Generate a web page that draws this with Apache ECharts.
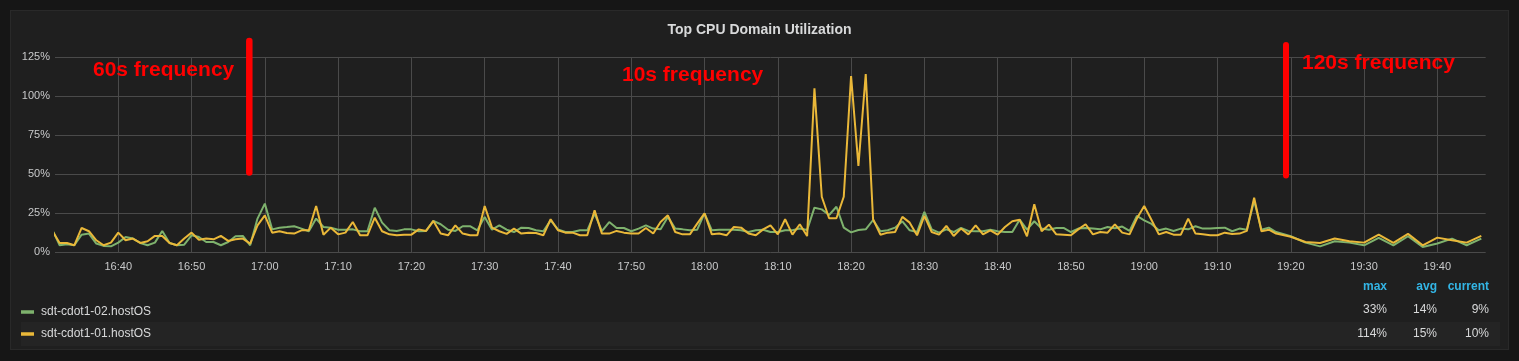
<!DOCTYPE html>
<html>
<head>
<meta charset="utf-8">
<script src="https://cdn.jsdelivr.net/npm/echarts@6/dist/echarts.min.js"></script>
<style>
html,body{margin:0;padding:0;background:#161616;}
#panel{position:absolute;left:10px;top:10px;width:1499px;height:340px;background:#1f1f1f;border:1px solid #292929;box-sizing:border-box;}
#chart{position:absolute;left:0;top:0;width:1519px;height:361px;}
</style>
</head>
<body>
<div id="panel"></div>
<div id="chart"></div>
<script>
const title = 'Top CPU Domain Utilization';
const seriesNames = ['sdt-cdot1-02.hostOS', 'sdt-cdot1-01.hostOS'];
const statHeaders = ['max', 'avg', 'current'];
const stats02 = ['33%', '14%', '9%'];
const stats01 = ['114%', '15%', '10%'];
const annotations = ['60s frequency', '10s frequency', '120s frequency'];
const yTicks = [0, 25, 50, 75, 100, 125];
const xTickLabels = ['16:40','16:50','17:00','17:10','17:20','17:30','17:40','17:50','18:00','18:10',
  '18:20','18:30','18:40','18:50','19:00','19:10','19:20','19:30','19:40'];

const times = [
 '16:31','16:32','16:33','16:34','16:35','16:36','16:37','16:38','16:39',
 '16:40','16:41','16:42','16:43','16:44','16:45','16:46','16:47','16:48','16:49',
 '16:50','16:51','16:52','16:53','16:54','16:55','16:56','16:57','16:58','16:59',
 '17:00','17:01','17:02','17:03','17:04','17:05','17:06','17:07','17:08','17:09',
 '17:10','17:11','17:12','17:13','17:14','17:15','17:16','17:17','17:18','17:19',
 '17:20','17:21','17:22','17:23','17:24','17:25','17:26','17:27','17:28','17:29',
 '17:30','17:31','17:32','17:33','17:34','17:35','17:36','17:37','17:38','17:39',
 '17:40','17:41','17:42','17:43','17:44','17:45','17:46','17:47','17:48','17:49',
 '17:50','17:51','17:52','17:53','17:54','17:55','17:56','17:57','17:58','17:59',
 '18:00','18:01','18:02','18:03','18:04','18:05','18:06','18:07','18:08','18:09',
 '18:10','18:11','18:12','18:13','18:14','18:15','18:16','18:17','18:18','18:19',
 '18:20','18:21','18:22','18:23','18:24','18:25','18:26','18:27','18:28','18:29',
 '18:30','18:31','18:32','18:33','18:34','18:35','18:36','18:37','18:38','18:39',
 '18:40','18:41','18:42','18:43','18:44','18:45','18:46','18:47','18:48','18:49',
 '18:50','18:51','18:52','18:53','18:54','18:55','18:56','18:57','18:58','18:59',
 '19:00','19:01','19:02','19:03','19:04','19:05','19:06','19:07','19:08','19:09',
 '19:10','19:11','19:12','19:13','19:14','19:15','19:16','19:17','19:18',
 '19:20','19:22','19:24','19:26','19:28','19:30','19:32','19:34','19:36','19:38',
 '19:40','19:42','19:44','19:46'
];

// sdt-cdot1-01.hostOS (yellow)
const host01 = [
 13.7, 6.0, 6.0, 4.5, 15.6, 13.5, 7.7, 4.5, 6.2,
 12.6, 7.7, 8.8, 6.0, 7.1, 10.5, 10.5, 6.0, 4.5, 8.8,
 12.6, 8.1, 8.8, 8.3, 10.5, 7.3, 8.3, 8.8, 5.6, 17.3,
 23.7, 12.6, 13.5, 12.4, 12.0, 14.1, 14.1, 29.7, 11.3, 15.8,
 11.5, 12.6, 19.4, 10.9, 10.9, 22.2, 13.5, 11.5, 10.9, 11.3,
 11.3, 14.7, 13.7, 20.1, 12.0, 10.9, 17.3, 12.0, 10.9, 10.9,
 29.7, 15.8, 13.5, 11.8, 15.2, 12.0, 12.6, 12.4, 10.9, 21.2,
 14.1, 12.6, 12.6, 10.9, 10.9, 26.9, 12.0, 12.0, 13.7, 12.6,
 12.0, 12.0, 15.6, 12.0, 19.4, 23.7, 13.0, 11.5, 11.5, 18.4,
 25.0, 11.5, 12.0, 10.9, 16.2, 15.8, 12.0, 10.9, 14.7, 17.3,
 11.5, 21.2, 11.3, 18.0, 10.4, 105.1, 35.6, 21.8, 21.8, 35.6,
 113.0, 55.3, 114.3, 21.2, 11.3, 12.6, 13.0, 22.7, 19.0, 10.9,
 23.3, 13.0, 11.3, 16.9, 10.5, 15.2, 11.5, 17.3, 11.5, 14.1,
 11.3, 16.2, 19.9, 20.9, 10.3, 30.8, 13.5, 17.7, 11.5, 11.3,
 10.9, 14.7, 18.0, 11.5, 13.0, 12.6, 17.9, 12.6, 11.5, 21.6,
 29.7, 20.7, 11.5, 13.0, 11.3, 11.3, 21.6, 12.0, 11.5, 10.9,
 10.9, 12.6, 11.8, 12.0, 13.7, 35.0, 13.5, 14.5, 12.0,
 10.0, 6.6, 6.0, 8.8, 7.1, 6.2, 11.3, 6.0, 11.8, 4.5,
 9.4, 7.7, 6.2, 10.5
];

// sdt-cdot1-02.hostOS (green)
const host02 = [
 14.5, 4.5, 5.1, 4.5, 11.3, 12.0, 5.6, 4.1, 3.8,
 6.2, 9.8, 8.8, 6.0, 4.5, 6.2, 13.7, 6.0, 4.5, 4.9,
 10.9, 9.8, 6.6, 6.6, 4.5, 6.6, 10.3, 10.5, 4.5, 21.6,
 31.2, 14.7, 15.8, 16.2, 16.7, 15.2, 13.5, 21.6, 16.2, 15.8,
 14.5, 14.5, 14.7, 13.5, 13.5, 28.6, 19.0, 14.1, 13.7, 14.7,
 14.7, 13.5, 13.7, 20.1, 18.0, 14.5, 13.7, 16.7, 16.7, 14.1,
 22.7, 14.5, 17.3, 14.5, 13.0, 15.8, 15.6, 14.1, 13.5, 20.5,
 14.7, 13.0, 13.0, 14.1, 14.1, 24.8, 13.5, 19.4, 15.6, 15.6,
 13.5, 15.2, 17.3, 15.2, 14.7, 22.7, 15.2, 14.7, 14.1, 14.5,
 25.0, 14.1, 14.5, 14.5, 14.5, 14.1, 13.0, 14.1, 14.5, 13.0,
 13.0, 14.1, 14.1, 15.2, 14.3, 28.6, 27.5, 23.9, 29.2, 15.8,
 12.8, 14.3, 14.7, 20.7, 13.5, 14.1, 15.8, 19.9, 14.1, 13.0,
 25.9, 14.7, 12.6, 14.7, 13.0, 15.6, 13.7, 13.5, 13.5, 14.5,
 13.5, 13.0, 13.0, 20.9, 14.5, 19.9, 15.2, 14.5, 15.6, 15.6,
 13.0, 15.2, 15.6, 15.2, 14.7, 16.2, 15.4, 16.5, 13.7, 23.3,
 20.5, 18.2, 14.1, 15.2, 13.7, 15.2, 14.7, 16.7, 15.2, 15.2,
 15.6, 15.8, 13.5, 15.2, 14.5, 33.0, 14.5, 15.8, 13.0,
 10.3, 6.2, 3.8, 7.1, 6.2, 4.5, 9.2, 4.5, 10.3, 3.4,
 5.6, 8.8, 4.5, 8.8
];

function ts(s) {
  const p = s.split(':');
  return new Date(2018, 0, 1, +p[0], +p[1], 0).getTime();
}
const xMin = new Date(2018, 0, 1, 16, 31, 22).getTime();
const xMax = new Date(2018, 0, 1, 19, 46, 36).getTime();
const xTickValues = xTickLabels.map(ts);

const d02 = times.map((t, i) => [ts(t), host02[i]]);
const d01 = times.map((t, i) => [ts(t), host01[i]]);

const FONT = '"Liberation Sans", Arial, Helvetica, sans-serif';
const TEXT = '#d8d9da';
const LABEL = '#c8c9ca';
const GRID = '#4a4a4a';

const chart = echarts.init(document.getElementById('chart'), null, {renderer: 'canvas'});

const g = [];
g.push({type: 'rect', left: 21, top: 322, shape: {width: 1479, height: 24}, style: {fill: '#242424'}, z: 0});
const colRight = [1387, 1437, 1489];
statHeaders.forEach((h, i) => {
  g.push({type: 'text', x: colRight[i], y: 287, style: {text: h, fill: '#33b5e5', font: 'bold 12px ' + FONT, textAlign: 'right', verticalAlign: 'middle'}, z: 5});
});
stats02.forEach((v, i) => {
  g.push({type: 'text', x: colRight[i], y: 310, style: {text: v, fill: TEXT, font: '12px ' + FONT, textAlign: 'right', verticalAlign: 'middle'}, z: 5});
});
stats01.forEach((v, i) => {
  g.push({type: 'text', x: colRight[i], y: 333.5, style: {text: v, fill: TEXT, font: '12px ' + FONT, textAlign: 'right', verticalAlign: 'middle'}, z: 5});
});
const annoPos = [[93, 70], [622, 75], [1302, 63]];
annotations.forEach((a, i) => {
  g.push({type: 'text', x: annoPos[i][0], y: annoPos[i][1], style: {text: a, fill: '#ff0000', font: 'bold 21px ' + FONT, textAlign: 'left', verticalAlign: 'middle'}, z: 100});
});
g.push({type: 'line', shape: {x1: 249.3, y1: 41, x2: 249.3, y2: 172.5}, style: {stroke: '#ff0000', lineWidth: 6.5, lineCap: 'round'}, z: 100});
g.push({type: 'line', shape: {x1: 1286, y1: 45, x2: 1286, y2: 175.5}, style: {stroke: '#ff0000', lineWidth: 6, lineCap: 'round'}, z: 100});

chart.setOption({
  animation: false,
  backgroundColor: 'transparent',
  title: {
    text: title, left: 'center', top: 18,
    textStyle: {color: TEXT, fontSize: 14, fontWeight: 'bold', fontFamily: FONT}
  },
  grid: {left: 55, right: 33.3, top: 57.3, bottom: 108.7, containLabel: false},
  legend: {
    orient: 'vertical', left: 21, top: 305, padding: 0, itemGap: 8,
    icon: 'rect', itemWidth: 13, itemHeight: 3.5,
    data: seriesNames,
    textStyle: {color: TEXT, fontSize: 12, fontFamily: FONT, lineHeight: 14, padding: [0, 0, 0, 2]},
    selectedMode: false
  },
  xAxis: {
    type: 'time', min: xMin, max: xMax,
    axisLine: {show: false},
    axisTick: {show: false, customValues: xTickValues},
    axisLabel: {color: LABEL, fontSize: 11, fontFamily: FONT, margin: 9, formatter: '{HH}:{mm}', customValues: xTickValues},
    splitLine: {show: true, lineStyle: {color: GRID, width: 1}}
  },
  yAxis: {
    type: 'value', min: yTicks[0], max: yTicks[yTicks.length - 1], interval: 25,
    axisLine: {show: false}, axisTick: {show: false},
    axisLabel: {color: LABEL, fontSize: 11, fontFamily: FONT, margin: 5, formatter: '{value}%'},
    splitLine: {show: true, lineStyle: {color: GRID, width: 1}}
  },
  series: [
    {name: seriesNames[0], type: 'line', data: d02, showSymbol: false, symbol: 'none', color: '#7eb26d', lineStyle: {width: 2, color: '#7eb26d'}, clip: true, z: 2},
    {name: seriesNames[1], type: 'line', data: d01, showSymbol: false, symbol: 'none', color: '#eab839', lineStyle: {width: 2, color: '#eab839'}, clip: true, z: 3}
  ],
  graphic: g
});
</script>
</body>
</html>
